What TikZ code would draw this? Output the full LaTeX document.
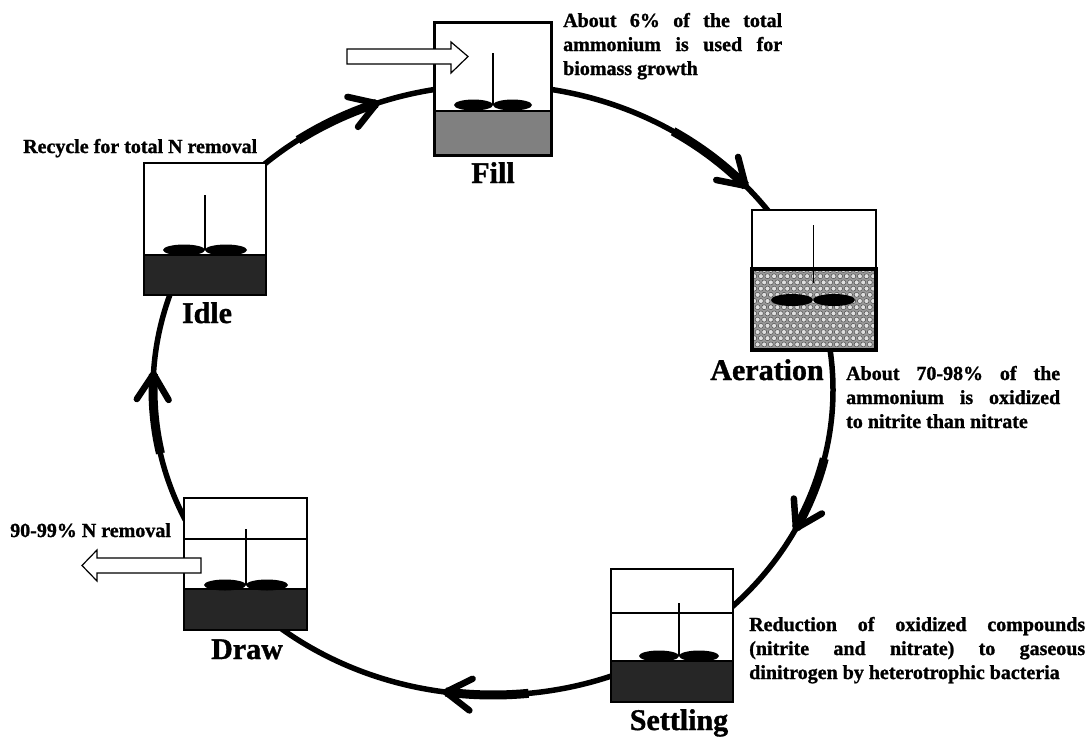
\documentclass[tikz,border=0pt]{standalone}
\usepackage{fontspec}
\setmainfont[BoldFeatures={FakeBold=1.2}]{Liberation Serif}
\usetikzlibrary{calc}

\definecolor{fillgray}{HTML}{808080}
\definecolor{sludge}{HTML}{262626}

\tikzset{
	cycleline/.style={line width=5.5pt},
	wedge/.style={line width=9pt},
	barbline/.style={line width=6.5pt,line cap=round,line join=round},
	thinwall/.style={draw=black,line width=1.3pt},
	heavywall/.style={draw=black,line width=3pt},
	shaft/.style={line width=1.8pt},
	flowarrow/.style={draw=black,fill=white,line width=1.2pt},
	phase/.style={font=\bfseries\fontsize{30}{36}\selectfont,inner sep=0pt},
	note/.style={font=\bfseries\fontsize{20}{24}\selectfont,inner sep=0pt},
}

% stirrer: x, top of shaft, y of blades, half span of one blade
\newcommand{\mixer}[4]{%
	\draw[shaft] (#1,#2) -- (#1,#3);
	\fill ({#1-#4},#3) ellipse [x radius=#4,y radius=5.5];
	\fill ({#1+#4},#3) ellipse [x radius=#4,y radius=5.5];}

% arrow on the cycle: start angle, tip angle (clockwise)
\newcommand{\cyclearrow}[2]{%
	\draw[wedge] plot[domain=#1:#2,samples=12] ({493+340*cos(\x)},{390-305*sin(\x)});
	\coordinate (tip) at ({493+340*cos(#2)},{390-305*sin(#2)});
	\coordinate (back) at ({493+340*cos(#2+3)},{390-305*sin(#2+3)});
	\draw[barbline] ($(tip)!30pt!32:(back)$) -- (tip) -- ($(tip)!30pt!-32:(back)$);}

\begin{document}
\begin{tikzpicture}[x=1pt,y=-1pt]
			\useasboundingbox (0,0) rectangle (1090,740);

			%the cycle
			\draw[cycleline] (493,390) ellipse [x radius=340,y radius=305];
			\cyclearrow{125}{110}
			\cyclearrow{58}{42}
			\cyclearrow{-13}{-27}
			\cyclearrow{-84}{-98}
			\cyclearrow{192}{177}

			%Fill
			\fill[white] (434,22) rectangle (551,155);
			\fill[fillgray] (434,111) rectangle (551,155);
			\draw[line width=1.5pt] (434,111) -- (551,111);
			\draw[heavywall] (434,22) rectangle (551,155);
			\mixer{493}{53}{105}{19.5}
			\draw[flowarrow] (347,49) -- (451,49) -- (451,42) -- (468,56.5) -- (451,73) -- (451,64) -- (347,64) -- cycle;
			\node[phase,anchor=base] (filllabel) at (493,183) {Fill};
			\node[note,text width=219pt,align=justify,anchor=base west] (fillnote) at (563,27)
				{About 6\% of the total\linebreak ammonium is used for\linebreak biomass growth};

			%Aeration
			\fill[white] (752,210) rectangle (876,269);
			\draw[thinwall] (752,210) rectangle (876,269);
			\fill[gray!80] (752,269) rectangle (876,350);
			\begin{scope}
				\clip (752,269) rectangle (876,350);
				\foreach \j in {0,...,13}
					\foreach \i in {0,...,19}
						\filldraw[fill=gray!25,draw=black!70,line width=0.5pt]
							({751+6.6*\i+3.3*mod(\j,2)},{270+6.2*\j}) circle [radius=2.5];
			\end{scope}
			\draw[heavywall,line width=3.5pt] (752,269) rectangle (876,350);
			\draw[line width=0.9pt] (813,225) -- (813,283);
			\fill (792,300) ellipse [x radius=21,y radius=6];
			\fill (834,300) ellipse [x radius=21,y radius=6];
			\node[phase,anchor=base] (aerationlabel) at (767,380) {Aeration};
			\node[note,text width=214pt,align=justify,anchor=base west] (aerationnote) at (846,380)
				{About 70-98\% of the\linebreak ammonium is oxidized\linebreak to nitrite than nitrate};

			%Settling
			\fill[white] (611,569) rectangle (733,702);
			\draw[thinwall] (611,569) rectangle (733,702);
			\draw[thinwall] (611,613) -- (733,613);
			\fill[sludge] (611,661) rectangle (733,702);
			\draw[heavywall,line width=2pt] (611,661) rectangle (733,702);
			\mixer{679}{603}{656}{20}
			\node[phase,anchor=base] (settlinglabel) at (679,730) {Settling};
			\node[note,text width=336pt,align=justify,anchor=base west] (settlingnote) at (749,631)
				{Reduction of oxidized compounds\linebreak (nitrite and nitrate) to gaseous\linebreak dinitrogen by heterotrophic bacteria};

			%Draw
			\fill[white] (184,498) rectangle (307,630);
			\draw[thinwall] (184,498) rectangle (307,630);
			\draw[thinwall] (184,539) -- (307,539);
			\fill[sludge] (184,589) rectangle (307,630);
			\draw[thinwall] (184,589) rectangle (307,630);
			\mixer{246}{529}{585}{21}
			\draw[flowarrow] (201,558) -- (97,558) -- (97,550) -- (82,565.5) -- (97,581) -- (97,573) -- (201,573) -- cycle;
			\node[phase,anchor=base] (drawlabel) at (247,659) {Draw};
			\node[note,anchor=base west] (drawnote) at (10,537) {90-99\% N removal};

			%Idle
			\fill[white] (144,163) rectangle (266,295);
			\draw[thinwall] (144,163) rectangle (266,295);
			\fill[sludge] (144,255) rectangle (266,295);
			\draw[thinwall] (144,255) rectangle (266,295);
			\mixer{205}{195}{250}{21}
			\node[phase,anchor=base] (idlelabel) at (207,323) {Idle};
			\node[note,anchor=base west] (idlenote) at (23,153) {Recycle for total N removal};
\end{tikzpicture}
\end{document}
